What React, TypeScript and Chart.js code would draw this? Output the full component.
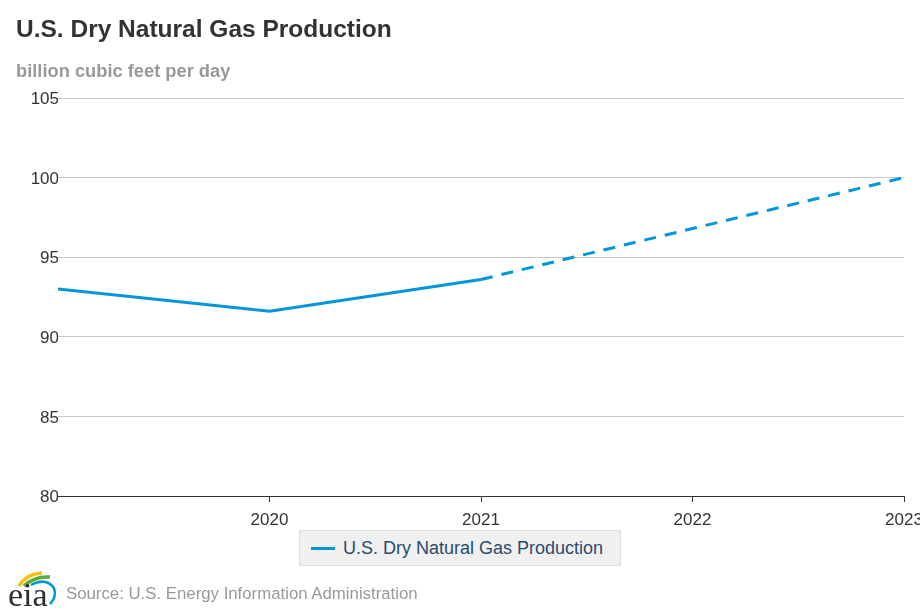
import React, { useEffect, useRef } from "react";
import { Chart, registerables } from "chart.js";

Chart.register(...registerables);

const years = [2019, 2020, 2021, 2022, 2023];
const production = [93.0, 91.6, 93.6, 96.8, 100.0];
const forecastStartYear = 2021;
const yTicks = [80, 85, 90, 95, 100, 105];
const xTickLabels = [2020, 2021, 2022, 2023];

const seriesLabel = "U.S. Dry Natural Gas Production";
const titleText = "U.S. Dry Natural Gas Production";
const unitText = "billion cubic feet per day";
const sourceText = "Source: U.S. Energy Information Administration";

const BLUE = "#0096d7";
const FONT = "'Liberation Sans', Arial, Helvetica, sans-serif";

export default function App() {
  const canvasRef = useRef<HTMLCanvasElement | null>(null);

  useEffect(() => {
    document.body.style.margin = "0";
    const canvas = canvasRef.current;
    if (!canvas) return;
    const chart = new Chart(canvas, {
      type: "line",
      data: {
        datasets: [
          {
            label: seriesLabel,
            data: years.map((y, i) => ({ x: y, y: production[i] })),
            borderColor: BLUE,
            backgroundColor: BLUE,
            borderWidth: 3,
            pointRadius: 0,
            tension: 0,
            fill: false,
            segment: {
              borderDash: (ctx: any) =>
                ctx.p0.parsed.x >= forecastStartYear ? [12, 9] : undefined,
            },
          },
        ],
      },
      options: {
        responsive: false,
        animation: false,
        layout: { padding: { top: 98, left: 0, right: 16, bottom: 0 } },
        plugins: {
          legend: { display: false },
          title: { display: false },
          tooltip: { enabled: false },
        },
        scales: {
          x: {
            type: "linear",
            min: years[0],
            max: years[years.length - 1],
            afterBuildTicks: (scale: any) => {
              scale.ticks = [years[0], ...xTickLabels].map((v) => ({ value: v }));
            },
            afterFit: (scale: any) => {
              scale.height = 117;
              scale.paddingLeft = 0;
              scale.paddingRight = 0;
            },
            grid: {
              drawOnChartArea: false,
              drawTicks: true,
              tickLength: 6,
              color: (ctx: any) =>
                ctx.tick && xTickLabels.includes(ctx.tick.value) ? "#333333" : "rgba(0,0,0,0)",
              lineWidth: 1,
            },
            border: { display: true, color: "#333333", width: 1 },
            ticks: {
              padding: 8,
              maxRotation: 0,
              autoSkip: false,
              color: "#333333",
              font: { family: FONT, size: 17 },
              callback: (v: any) => (xTickLabels.includes(Number(v)) ? String(v) : ""),
            },
          },
          y: {
            min: yTicks[0],
            max: yTicks[yTicks.length - 1],
            afterBuildTicks: (scale: any) => {
              scale.ticks = yTicks.map((v) => ({ value: v }));
            },
            afterFit: (scale: any) => {
              scale.width = 58;
              scale.paddingTop = 0;
              scale.paddingBottom = 0;
            },
            grid: {
              drawTicks: false,
              color: (ctx: any) =>
                ctx.tick && ctx.tick.value === yTicks[0] ? "rgba(0,0,0,0)" : "#c8c8c8",
              lineWidth: 1,
            },
            border: { display: false },
            ticks: {
              padding: -1,
              labelOffset: 1.5,
              color: "#333333",
              font: { family: FONT, size: 17 },
              callback: (v: any) => String(v),
            },
          },
        },
      },
    } as any);
    return () => chart.destroy();
  }, []);

  return (
    <div
      style={{
        position: "relative",
        width: 920,
        height: 613,
        overflow: "hidden",
        background: "#ffffff",
        fontFamily: FONT,
      }}
    >
      <canvas
        ref={canvasRef}
        width={920}
        height={613}
        style={{ position: "absolute", left: 0, top: 0, width: 920, height: 613 }}
      />
      <div
        style={{
          position: "absolute",
          left: 16,
          top: 14,
          fontSize: 24.5,
          fontWeight: "bold",
          color: "#333333",
          whiteSpace: "nowrap",
          lineHeight: "30px",
        }}
      >
        {titleText}
      </div>
      <div
        style={{
          position: "absolute",
          left: 16,
          top: 60,
          fontSize: 18.3,
          fontWeight: "bold",
          color: "#999999",
          whiteSpace: "nowrap",
          lineHeight: "22px",
        }}
      >
        {unitText}
      </div>
      <div
        style={{
          position: "absolute",
          left: 299,
          top: 530,
          width: 322,
          height: 36,
          boxSizing: "border-box",
          background: "#f0f0f0",
          border: "1px solid #dedede",
          display: "flex",
          alignItems: "center",
          whiteSpace: "nowrap",
        }}
      >
        <span
          style={{
            display: "inline-block",
            marginLeft: 11,
            width: 24,
            height: 3,
            background: BLUE,
          }}
        />
        <span style={{ marginLeft: 8, fontSize: 18, color: "#2b4b6d" }}>{seriesLabel}</span>
      </div>
      <svg
        width={60}
        height={44}
        viewBox="0 0 60 44"
        style={{ position: "absolute", left: 4, top: 568 }}
      >
        <path d="M15 18 Q22 6 38 5" stroke="#f2c21b" strokeWidth={3.5} fill="none" />
        <path d="M20 18 Q30 8 46 9" stroke="#5cab3a" strokeWidth={3.5} fill="none" />
        <path d="M27 17 Q42 9 50 20 Q53 29 46 36" stroke="#0096d7" strokeWidth={2.5} fill="none" />
        <text
          x={4}
          y={38}
          fontFamily="'Liberation Serif', 'DejaVu Serif', serif"
          fontSize={34}
          fill="#2e2e2e"
        >
          eia
        </text>
      </svg>
      <div
        style={{
          position: "absolute",
          left: 66,
          top: 583,
          fontSize: 16.8,
          color: "#999999",
          whiteSpace: "nowrap",
          lineHeight: "22px",
        }}
      >
        {sourceText}
      </div>
    </div>
  );
}
